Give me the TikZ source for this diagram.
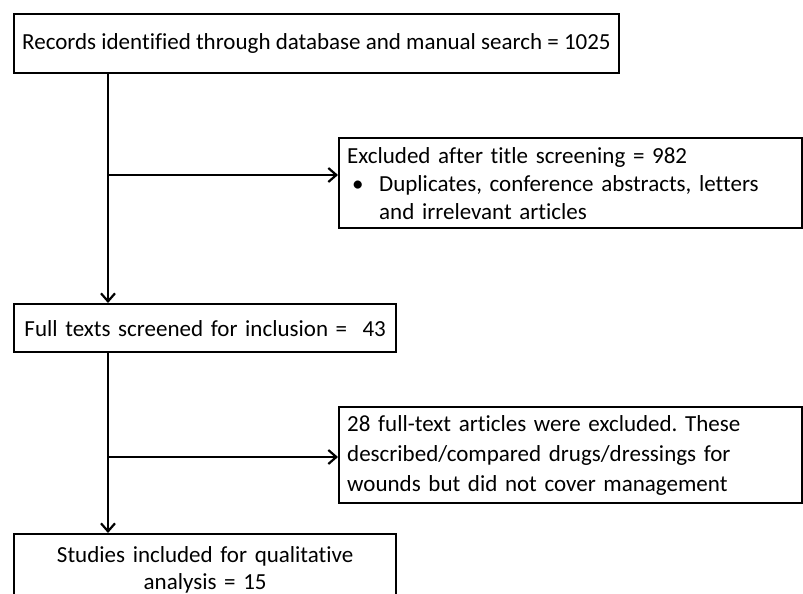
\documentclass[tikz,border=0pt]{standalone}
\usepackage{fontspec}
\setmainfont{Carlito}[Ligatures=NoCommon]
\frenchspacing
\usetikzlibrary{arrows.meta}
\tikzset{box/.style={draw, line width=2.4pt, inner xsep=8pt, inner ysep=0pt,
      anchor=north west, font=\fontsize{23}{28}\selectfont}}
\tikzset{flow/.style={line width=2.2pt,
      -{Straight Barb[length=8pt,width=14pt]}}}

\begin{document}
\begin{tikzpicture}[x=1pt,y=-1pt]
    \useasboundingbox (0,0) rectangle (803,594);
    \node[box, minimum height=59pt] (rec) at (13,13)
      {Records identified through database and manual search = 1025};
    \node[box, text width=447pt, align=left, minimum height=90pt] (excl) at (338,137)
      {Excluded after title screening = 982\\
       \makebox[32pt][l]{\hspace{5pt}\textbullet}Duplicates, conference abstracts, letters\\
       \hspace*{32pt}and irrelevant articles};
    \node[box, text width=366pt, align=center, minimum height=48pt] (full) at (13,303)
      {Full texts screened for inclusion =\ \ 43};
    \node[box, text width=447pt, align=left, minimum height=96pt,
      font=\fontsize{23}{30}\selectfont] (drop) at (338,406)
      {28 full-text articles were excluded. These\\
       described/compared drugs/dressings for\\
       wounds but did not cover management};
    \node[box, text width=366pt, align=center, minimum height=71pt,
      font=\fontsize{23}{27}\selectfont] (incl) at (13,533)
      {Studies included for qualitative\\ analysis = 15};

    \coordinate (j1) at (108,175);
    \coordinate (j2) at (108,457);
    \draw[flow] (rec.south -| j1) -- (full.north -| j1);
    \draw[flow] (j1) -- (excl.west |- j1);
    \draw[flow] (full.south -| j2) -- (incl.north -| j2);
    \draw[flow] (j2) -- (drop.west |- j2);
\end{tikzpicture}
\end{document}
